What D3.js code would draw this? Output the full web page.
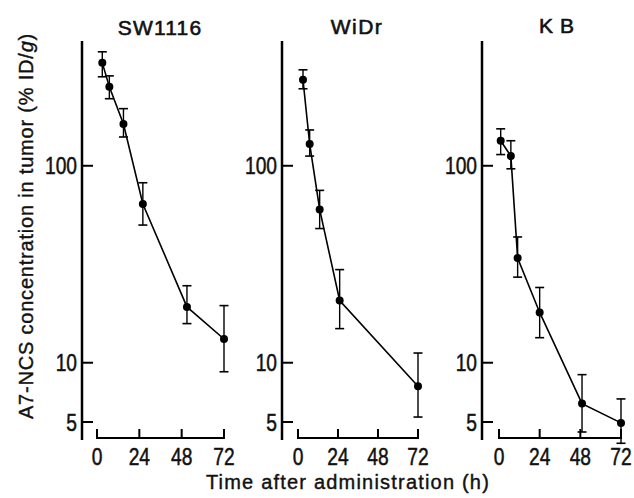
<!DOCTYPE html>
<html>
<head>
<meta charset="utf-8">
<script src="https://cdn.jsdelivr.net/npm/d3@7"></script>
<style>
  html, body { margin: 0; padding: 0; background: #fff; }
  svg { display: block; }
</style>
</head>
<body>
<svg id="chart" width="634" height="498"></svg>
<script>
// ---------------- DATA ----------------
const panelNames = ["SW1116", "WiDr", "KB"];
const xTicks = [0, 24, 48, 72];
const yTicks = [5, 10, 100];

// Times (h) as placed in each panel
const timesSW1116 = [3, 7, 15, 26, 51, 72];
const timesWiDr   = [3, 7, 13, 25, 72];
const timesKB     = [1, 7, 11, 24, 49, 72];

// Mean concentration (% ID/g)
const meanSW1116 = [333, 252, 163, 64, 19.2, 13.2];
const meanWiDr   = [273, 129, 60, 20.7, 7.6];
const meanKB     = [134, 112, 34, 18, 6.2, 4.95];

// Error bar upper / lower limits
const hiSW1116 = [379, 286, 195, 82, 24.6, 19.5];
const loSW1116 = [283, 219, 140, 50, 15.8, 9.0];
const hiWiDr   = [307, 152, 75, 29.7, 11.2];
const loWiDr   = [246, 112, 48, 14.9, 5.3];
const hiKB     = [154, 134, 43.5, 24.1, 8.7, 6.55];
const loKB     = [114, 96.5, 27.2, 13.4, 4.45, 3.9];

// ---------------- LAYOUT ----------------
const layout = [
  { yAxisX: 82,  x0: 97,  x1: 224, titleX: 160, titleY: 35, ls: 1.2 },
  { yAxisX: 282, x0: 298, x1: 418, titleX: 357, titleY: 34, ls: 1.5 },
  { yAxisX: 482, x0: 499, x1: 621, titleX: 560, titleY: 33, ls: 7 }
];
const seriesData = [
  { t: timesSW1116, m: meanSW1116, hi: hiSW1116, lo: loSW1116 },
  { t: timesWiDr,   m: meanWiDr,   hi: hiWiDr,   lo: loWiDr },
  { t: timesKB,     m: meanKB,     hi: hiKB,     lo: loKB }
];

const svg = d3.select("#chart");
const y = d3.scaleLog().domain([4.1, 430]).range([439, 41]);
const xAxisY = 438;
const numFont = "'Liberation Sans', Arial, sans-serif";

function heavy(sel, w) {
  return sel.attr("stroke", "#111").attr("stroke-width", w).attr("paint-order", "stroke");
}

panelNames.forEach((name, i) => {
  const L = layout[i];
  const D = seriesData[i];
  const g = svg.append("g");
  const x = d3.scaleLinear().domain([0, 72]).range([L.x0, L.x1]);

  // Title
  heavy(g.append("text")
    .attr("x", L.titleX).attr("y", L.titleY)
    .attr("text-anchor", "middle")
    .attr("font-family", numFont)
    .attr("font-size", 21)
    .attr("letter-spacing", L.ls)
    .attr("fill", "#111")
    .text(name), 0.6);

  // Y axis line
  g.append("line")
    .attr("x1", L.yAxisX).attr("x2", L.yAxisX)
    .attr("y1", y.range()[1]).attr("y2", y.range()[0] + 1)
    .attr("stroke", "#000").attr("stroke-width", 2.5);

  // Y ticks (inward)
  yTicks.forEach(v => {
    g.append("line")
      .attr("x1", L.yAxisX).attr("x2", L.yAxisX + 11)
      .attr("y1", y(v)).attr("y2", y(v))
      .attr("stroke", "#000").attr("stroke-width", 2);
    heavy(g.append("text")
      .attr("transform", `translate(${L.yAxisX - 5},${y(v) + 8.5}) scale(0.8,1)`)
      .attr("text-anchor", "end")
      .attr("font-family", numFont)
      .attr("font-size", 24)
      .attr("fill", "#111")
      .text(d3.format("d")(v)), 0.5);
  });

  // X axis (offset line with upward ticks)
  g.append("line")
    .attr("x1", x(0) - 1).attr("x2", x(72) + 1)
    .attr("y1", xAxisY).attr("y2", xAxisY)
    .attr("stroke", "#000").attr("stroke-width", 2.2);
  xTicks.forEach(t => {
    g.append("line")
      .attr("x1", x(t)).attr("x2", x(t))
      .attr("y1", xAxisY).attr("y2", xAxisY - 9)
      .attr("stroke", "#000").attr("stroke-width", 2);
    heavy(g.append("text")
      .attr("transform", `translate(${x(t)},${xAxisY + 27}) scale(0.8,1)`)
      .attr("text-anchor", "middle")
      .attr("font-family", numFont)
      .attr("font-size", 24)
      .attr("fill", "#111")
      .text(t), 0.5);
  });

  // Data line
  const pts = D.t.map((t, k) => ({ t, m: D.m[k], hi: D.hi[k], lo: D.lo[k] }));
  g.append("path")
    .datum(pts)
    .attr("fill", "none")
    .attr("stroke", "#000")
    .attr("stroke-width", 1.6)
    .attr("d", d3.line().x(d => x(d.t)).y(d => y(d.m)));

  // Error bars
  const eb = g.selectAll(".eb").data(pts).enter().append("g");
  eb.append("line")
    .attr("x1", d => x(d.t)).attr("x2", d => x(d.t))
    .attr("y1", d => y(d.hi)).attr("y2", d => y(d.lo))
    .attr("stroke", "#000").attr("stroke-width", 1.4);
  eb.append("line")
    .attr("x1", d => x(d.t) - 4.5).attr("x2", d => x(d.t) + 4.5)
    .attr("y1", d => y(d.hi)).attr("y2", d => y(d.hi))
    .attr("stroke", "#000").attr("stroke-width", 1.6);
  eb.append("line")
    .attr("x1", d => x(d.t) - 4.5).attr("x2", d => x(d.t) + 4.5)
    .attr("y1", d => y(d.lo)).attr("y2", d => y(d.lo))
    .attr("stroke", "#000").attr("stroke-width", 1.6);

  // Markers
  g.selectAll(".pt").data(pts).enter().append("circle")
    .attr("cx", d => x(d.t)).attr("cy", d => y(d.m))
    .attr("r", 4).attr("fill", "#000");
});

// Y axis title
const yt = heavy(svg.append("text")
  .attr("transform", "translate(33,226) rotate(-90)")
  .attr("text-anchor", "middle")
  .attr("font-family", numFont)
  .attr("font-size", 20)
  .attr("letter-spacing", 0.8)
  .attr("fill", "#111"), 0.4);
yt.append("tspan").text("A7-NCS concentration in tumor (% ID/");
yt.append("tspan").attr("font-style", "italic").text("g");
yt.append("tspan").text(")");

// X axis title
heavy(svg.append("text")
  .attr("x", 348).attr("y", 489)
  .attr("text-anchor", "middle")
  .attr("font-family", numFont)
  .attr("font-size", 20)
  .attr("letter-spacing", 1.2)
  .attr("fill", "#111")
  .text("Time after administration (h)"), 0.4);
</script>
</body>
</html>
